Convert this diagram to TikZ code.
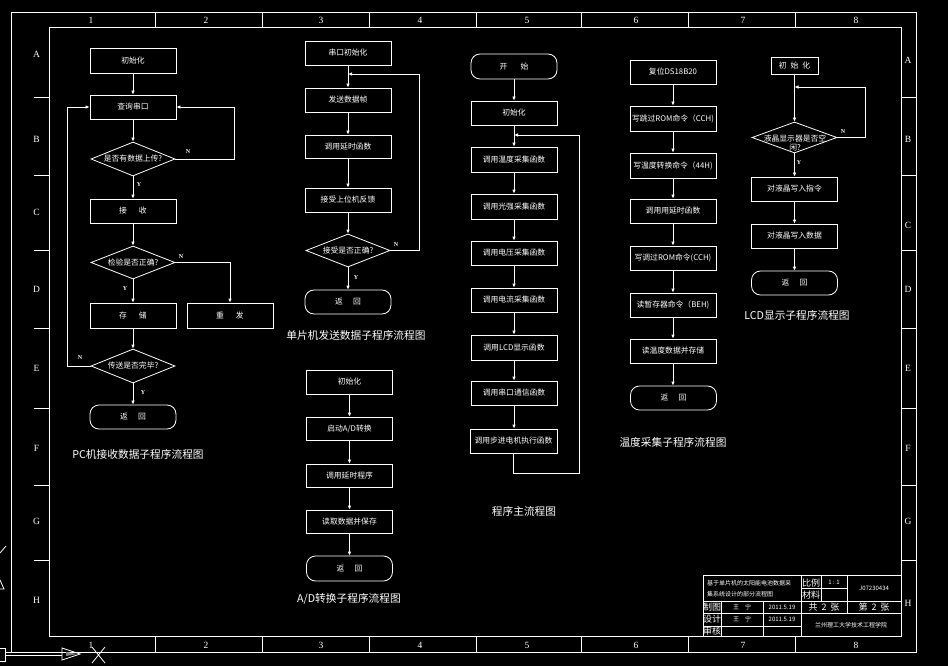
\documentclass[tikz,border=0pt]{standalone}
\usepackage{fontspec}
\setmainfont{Noto Sans CJK SC}
\newfontfamily\lab{Liberation Serif}
\usetikzlibrary{arrows.meta,shapes.geometric}
\begin{document}
\begin{tikzpicture}[x=1pt,y=-1pt,
  every node/.style={text=white},
  fl/.style={draw=white,line width=0.8pt},
  stepbox/.style={fl,rectangle,minimum width=86pt,minimum height=24pt,inner sep=0pt,font=\fontsize{7.8}{9}\selectfont},
  term/.style={stepbox,rounded corners=9pt},
  dec/.style={fl,diamond,minimum width=84pt,minimum height=34pt,inner sep=0pt},
  dtxt/.style={inner sep=0pt,font=\fontsize{7.8}{9}\selectfont,align=center},
  arr/.style={white,line width=0.8pt,-{Latex[length=4pt,width=3.6pt]}},
  ln/.style={white,line width=0.8pt},
  yn/.style={font=\fontsize{6}{6}\selectfont\lab\bfseries,inner sep=0pt},
  captxt/.style={font=\fontsize{10.7}{12}\selectfont,inner sep=0pt},
  frm/.style={white,line width=0.8pt},
  gl/.style={font=\fontsize{9.5}{10}\selectfont\lab,inner sep=0pt},
  tb/.style={font=\fontsize{6}{7}\selectfont,inner sep=0pt},
  tbl/.style={font=\fontsize{9}{10}\selectfont,inner sep=0pt},
]
\fill[black] (0,0) rectangle (948,666);
\useasboundingbox (0,0) rectangle (948,666);

% ---------------- frame ----------------
\draw[frm] (11,12) rectangle (916,652);
\draw[frm] (49,27) rectangle (901,636);
\foreach \x in {155,262,369,476,581,688,795}{
  \draw[frm] (\x,12) -- (\x,27);
  \draw[frm] (\x,636) -- (\x,652);
}
\foreach \y in {97,175,250,328,408,485,560}{
  \draw[frm] (34,\y) -- (49,\y);
  \draw[frm] (901,\y) -- (916,\y);
}
\foreach \n/\x in {1/91,2/206,3/321,4/420,5/527,6/636,7/743,8/856}{
  \node[gl] (ct\n) at (\x,20) {\n};
  \node[gl] (cb\n) at (\x,645.5) {\n};
}
\foreach \n/\yl/\yr in {A/54/60,B/139/139,C/212/225,D/289/289,E/368/368,F/448/448,G/521/521,H/600/603}{
  \node[gl] (rl\n) at (36.5,\yl) {\n};
  \node[gl] (rr\n) at (908,\yr) {\n};
}

% CAD leftovers at left edge
\draw[frm] (0,553) -- (6,546);
\draw[frm] (0,580) -- (4,589) -- (0,589);
\draw[frm] (0,648) -- (5,648) -- (5,661) -- (0,661);
\draw[frm] (5,652.5) -- (62,652.5);
\draw[frm] (5,655) -- (62,655);
\draw[frm] (62,648) -- (62,660) -- (80,654) -- cycle;
\fill[gray] (66,652) -- (66,656) -- (78,654) -- cycle;
\draw[frm] (92,647) -- (105,663);
\draw[frm] (105,647) -- (92,663);

% ---------------- title block ----------------
\draw[frm] (703,575) rectangle (901,636);
\draw[frm] (801,575) -- (801,636);
\draw[frm] (821,575) -- (821,601);
\draw[frm] (847,575) -- (847,613);
\draw[frm] (801,588) -- (847,588);
\draw[frm] (703,601) -- (901,601);
\draw[frm] (703,613) -- (901,613);
\draw[frm] (703,626) -- (801,626);
\draw[frm] (721,601) -- (721,636);
\draw[frm] (763,601) -- (763,636);
\node[tb,anchor=west] (tt1) at (707,583.5) {基于单片机的太阳能电池数据采};
\node[tb,anchor=west] (tt2) at (707,594) {集系统设计的部分流程图};
\node[tbl] (tbl1) at (811,583) {比例};
\node[tbl] (tbl2) at (811,595) {材料};
\node[tb] (tsc) at (834,582) {1 : 1};
\node[tb] (tno) at (874,588) {J07230434};
\node[tbl] (tbz) at (712,607) {制图};
\node[tbl] (tbs) at (712,619) {设计};
\node[tbl] (tbh) at (712,631) {审核};
\node[tb] (tn1) at (742,607) {王\hspace{6pt}宁};
\node[tb] (tn2) at (742,619) {王\hspace{6pt}宁};
\node[tb] (td1) at (782,607) {2011.5.19};
\node[tb] (td2) at (782,619) {2011.5.19};
\node[tbl] (tgo) at (824,607) {共\hspace{4pt}2\hspace{4pt}张};
\node[tbl] (tdi) at (874,607) {第\hspace{4pt}2\hspace{4pt}张};
\node[tb] (tsch) at (851,625) {兰州理工大学技术工程学院};

% ---------------- chart 1: PC receive ----------------
\node[stepbox,minimum height=25pt] (c1a) at (133,60.5) {初始化};
\node[stepbox] (c1b) at (133,107) {查询串口};
\node[dec] (c1c) at (133,159) {};
\node[dtxt] (c1ct) at (133,159) {是否有数据上传?};
\node[stepbox] (c1d) at (133,211) {接\hspace{12pt}收};
\node[dec,minimum height=33pt] (c1e) at (133,262.5) {};
\node[dtxt] (c1et) at (133,262.5) {检验是否正确?};
\node[stepbox,minimum height=25pt] (c1f) at (133,315.5) {存\hspace{12pt}储};
\node[stepbox,minimum height=25pt] (c1g) at (230,315.5) {重\hspace{12pt}发};
\node[dec] (c1h) at (133,366) {};
\node[dtxt] (c1ht) at (133,366) {传送是否完毕?};
\node[term] (c1i) at (133,417) {返\hspace{10pt}回};
\node[captxt] (cap1) at (138,454) {PC机接收数据子程序流程图};
\coordinate (r1) at (234,159);
\coordinate (l1) at (67,366);
\draw[arr] (c1a) -- (c1b);
\draw[arr] (c1b) -- (c1c);
\draw[arr] (c1c) -- (c1d);
\draw[arr] (c1d) -- (c1e);
\draw[arr] (c1e) -- (c1f);
\draw[arr] (c1e.east) -| (c1g.north);
\draw[arr] (c1f) -- (c1h);
\draw[arr] (c1h) -- (c1i);
\draw[arr] (c1c.east) -- (r1) |- (c1b.east);
\draw[arr] (c1h.west) -- (l1) |- (c1b.west);
\node[yn] (n1a) at (188,152) {N};
\node[yn] (y1a) at (139,185) {Y};
\node[yn] (n1b) at (181,257) {N};
\node[yn] (y1b) at (125,289) {Y};
\node[yn] (n1c) at (80,358) {N};
\node[yn] (y1c) at (143,393) {Y};

% ---------------- chart 2: MCU send ----------------
\node[stepbox] (c2a) at (348,53) {串口初始化};
\coordinate (j2) at (348,74);
\node[stepbox] (c2b) at (348,100) {发送数据帧};
\node[stepbox,minimum height=23pt] (c2c) at (348,146.5) {调用延时函数};
\node[stepbox] (c2d) at (348,200) {接受上位机反馈};
\node[dec,minimum height=33pt] (c2e) at (348,250.5) {};
\node[dtxt] (c2et) at (348,250.5) {接受是否正确?};
\node[term] (c2f) at (348,302) {返\hspace{10pt}回};
\node[captxt] (cap2) at (356,335) {单片机发送数据子程序流程图};
\coordinate (r2) at (419,250.5);
\draw[arr] (c2a) -- (c2b);
\draw[arr] (c2b) -- (c2c);
\draw[arr] (c2c) -- (c2d);
\draw[arr] (c2d) -- (c2e);
\draw[arr] (c2e) -- (c2f);
\draw[arr] (c2e.east) -- (r2) |- (j2);
\node[yn] (n2) at (396,245) {N};
\node[yn] (y2) at (356,278) {Y};

% ---------------- chart 3: A/D ----------------
\node[stepbox] (c3a) at (349.5,382) {初始化};
\node[stepbox,minimum height=23pt] (c3b) at (349.5,428.5) {启动A/D转换};
\node[stepbox,minimum height=23pt] (c3c) at (349.5,475.5) {调用延时程序};
\node[stepbox,minimum height=23pt] (c3d) at (349.5,521.5) {读取数据并保存};
\node[term,minimum height=25pt] (c3e) at (349.5,568.5) {返\hspace{10pt}回};
\node[captxt] (cap3) at (349,599) {A/D转换子程序流程图};
\draw[arr] (c3a) -- (c3b);
\draw[arr] (c3b) -- (c3c);
\draw[arr] (c3c) -- (c3d);
\draw[arr] (c3d) -- (c3e);

% ---------------- chart 4: main ----------------
\node[term,minimum height=25pt] (c4a) at (514,66.5) {开\hspace{13pt}始};
\node[stepbox] (c4b) at (514,113) {初始化};
\coordinate (j4) at (514,135);
\node[stepbox,minimum height=25pt] (c4c) at (514,159.5) {调用温度采集函数};
\node[stepbox,minimum height=25pt] (c4d) at (514,206.5) {调用光强采集函数};
\node[stepbox] (c4e) at (514,253) {调用电压采集函数};
\node[stepbox] (c4f) at (514,300) {调用电流采集函数};
\node[stepbox,minimum height=25pt] (c4g) at (514,347.5) {调用LCD显示函数};
\node[stepbox] (c4h) at (514,393) {调用串口通信函数};
\node[stepbox,minimum width=87pt] (c4i) at (513.5,441) {调用步进电机执行函数};
\node[captxt] (cap4) at (524,511) {程序主流程图};
\coordinate (b4) at (513.5,473);
\coordinate (r4) at (579,473);
\draw[arr] (c4a) -- (c4b);
\draw[arr] (c4b) -- (c4c);
\draw[arr] (c4c) -- (c4d);
\draw[arr] (c4d) -- (c4e);
\draw[arr] (c4e) -- (c4f);
\draw[arr] (c4f) -- (c4g);
\draw[arr] (c4g) -- (c4h);
\draw[arr] (c4h) -- (c4i.north -| c4h);
\draw[arr] (c4i.south) -- (b4) -- (r4) |- (j4);

% ---------------- chart 5: temperature ----------------
\node[stepbox] (c5a) at (673,72) {复位DS18B20};
\node[stepbox,minimum height=25pt] (c5b) at (673,118.5) {写跳过ROM命令（CCH)};
\node[stepbox,minimum height=25pt] (c5c) at (673,165.5) {写温度转换命令（44H)};
\node[stepbox] (c5d) at (673,211) {调用用延时函数};
\node[stepbox] (c5e) at (673,258) {写调过ROM命令(CCH)};
\node[stepbox] (c5f) at (673,305) {读暂存器命令（BEH)};
\node[stepbox] (c5g) at (673,351) {读温度数据并存储};
\node[term] (c5h) at (673.5,398) {返\hspace{10pt}回};
\node[captxt] (cap5) at (673,442) {温度采集子程序流程图};
\draw[arr] (c5a) -- (c5b);
\draw[arr] (c5b) -- (c5c);
\draw[arr] (c5c) -- (c5d);
\draw[arr] (c5d) -- (c5e);
\draw[arr] (c5e) -- (c5f);
\draw[arr] (c5f) -- (c5g);
\draw[arr] (c5g) -- (c5h.north -| c5g);

% ---------------- chart 6: LCD ----------------
\node[stepbox,minimum width=47pt,minimum height=17pt] (c6a) at (794.5,65.5) {初\hspace{4pt}始\hspace{4pt}化};
\coordinate (j6) at (794.5,87);
\node[dec,minimum width=85pt,minimum height=31pt] (c6b) at (794.5,137.5) {};
\node[dtxt] (c6bt) at (795,143) {液晶显示器是否空\\闲?};
\node[stepbox] (c6c) at (794.5,189) {对液晶写入指令};
\node[stepbox] (c6d) at (794.5,236) {对液晶写入数据};
\node[term] (c6e) at (794.5,283) {返\hspace{10pt}回};
\node[captxt] (cap6) at (797,315) {LCD显示子程序流程图};
\coordinate (r6) at (865,137.5);
\draw[arr] (c6a) -- (c6b);
\draw[arr] (c6b) -- (c6c);
\draw[arr] (c6c) -- (c6d);
\draw[arr] (c6d) -- (c6e);
\draw[arr] (c6b.east) -- (r6) |- (j6);
\node[yn] (n6) at (843,132) {N};
\node[yn] (y6) at (799,163) {Y};
\end{tikzpicture}
\end{document}
